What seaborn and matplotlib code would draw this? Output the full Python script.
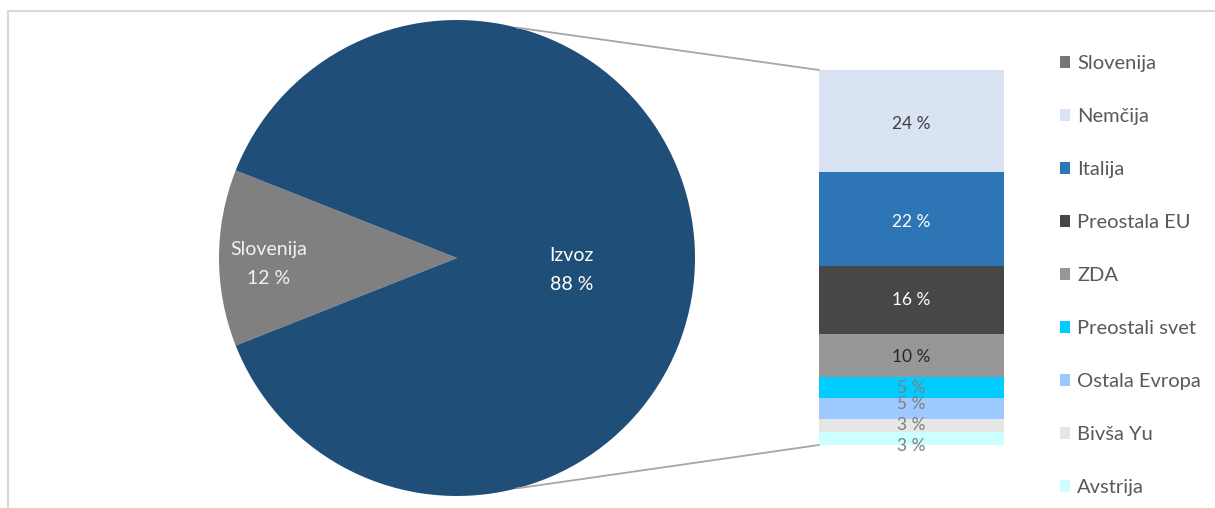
import numpy as np
import pandas as pd
import matplotlib
matplotlib.use("Agg")
import matplotlib.pyplot as plt
from matplotlib.patches import Patch, Rectangle, ConnectionPatch
import seaborn as sns

# ---- data ----
pie_labels = ["Slovenija", "Izvoz"]
pie_values = [12, 88]
pie_colors = ["#808080", "#1F4E79"]

bar_labels = ["Nemčija", "Italija", "Preostala EU", "ZDA", "Preostali svet",
              "Ostala Evropa", "Bivša Yu", "Avstrija"]
bar_values = [24, 22, 16, 10, 5, 5, 3, 3]
bar_colors = ["#DAE3F3", "#2E75B6", "#474747", "#979797", "#00CCFF",
              "#9DC9FF", "#E7E6E6", "#CCFFFF"]
bar_text_colors = ["#404040", "#FFFFFF", "#FFFFFF", "#262626", "#7F7F7F",
                   "#7F7F7F", "#7F7F7F", "#7F7F7F"]
# label shift in pixels (positive = down), mimicking overlap-avoidance
bar_label_offsets_px = [3, 3, 0, 1, 1, -5, -1, 7]

sns.set_theme(style="white")
plt.rcParams["font.family"] = ["Lato", "DejaVu Sans"]

W, H = 1215, 508
fig = plt.figure(figsize=(W / 100, H / 100), dpi=100)

# outer frame
fig.patches.append(Rectangle((8 / W, -0.1), 1.2, (H - 11) / H + 0.1,
                             transform=fig.transFigure, fill=False,
                             edgecolor="#D9D9D9", linewidth=1.5))

# ---- pie ----
cx, cy, r = 457, 258, 238
pax = fig.add_axes([(cx - r) / W, (H - cy - r) / H, 2 * r / W, 2 * r / H])
start = 180 - pie_values[0] / sum(pie_values) * 360 / 2
wedges, _ = pax.pie(pie_values, colors=pie_colors, startangle=start,
                    counterclock=True, radius=1,
                    wedgeprops=dict(linewidth=0, edgecolor="none"))
pax.set_xlim(-1, 1)
pax.set_ylim(-1, 1)
pax.axis("off")

label_dist = [0.79, 0.48]
label_dy = [-0.025, -0.05]
pie_text_colors = ["#F2F2F2", "#FFFFFF"]
for w, lab, val, d, dy, tc in zip(wedges, pie_labels, pie_values, label_dist,
                                  label_dy, pie_text_colors):
    ang = np.deg2rad((w.theta1 + w.theta2) / 2)
    pax.text(d * np.cos(ang), d * np.sin(ang) + dy, f"{lab}\n{val} %",
             ha="center", va="center", fontsize=14, color=tc, linespacing=1.85)

# ---- stacked bar (of pie) ----
bx0, bx1, by0, by1 = 819, 1004, 70, 445
bax = fig.add_axes([bx0 / W, (H - by1) / H, (bx1 - bx0) / W, (by1 - by0) / H])
total = sum(bar_values)
cum = np.cumsum(bar_values[::-1])[::-1]  # top-of-segment heights (bottom-up stacking)
df = pd.DataFrame({"grp": ["x"] * len(bar_labels), "top": cum,
                   "country": bar_labels})
for i in range(len(bar_labels)):
    sns.barplot(data=df.iloc[[i]], x="grp", y="top", color=bar_colors[i],
                width=1.0, saturation=1, ax=bax, linewidth=0)
bax.set_xlim(-0.5, 0.5)
bax.set_ylim(0, total)
bax.axis("off")

px_per_unit = (by1 - by0) / total
for i, (lab, v) in enumerate(zip(bar_labels, bar_values)):
    center = cum[i] - v / 2 - bar_label_offsets_px[i] / px_per_unit
    bax.text(0, center, f"{v} %", ha="center", va="center", fontsize=12.5,
             color=bar_text_colors[i])

# ---- connector lines ----
a = np.deg2rad(75.5)
for (px, py), (qx, qy) in [((np.cos(a), np.sin(a)), (-0.5, total)),
                           ((np.cos(a), -np.sin(a)), (-0.5, 0))]:
    con = ConnectionPatch(xyA=(px, py), coordsA=pax.transData,
                          xyB=(qx, qy), coordsB=bax.transData,
                          color="#A6A6A6", linewidth=1.3)
    fig.add_artist(con)

# ---- legend ----
leg_labels = [pie_labels[0]] + bar_labels
leg_colors = ["#767676"] + bar_colors
handles = [Patch(facecolor=c, edgecolor="none") for c in leg_colors]
leg = fig.legend(handles, leg_labels, loc="upper left",
                 bbox_to_anchor=(1060 / W, 1 - 55 / H), frameon=False,
                 fontsize=14.5, handlelength=0.5, handleheight=0.5,
                 handletextpad=0.35, labelspacing=1.79, borderaxespad=0,
                 borderpad=0)
for t in leg.get_texts():
    t.set_color("#595959")

fig.savefig("out.png", dpi=100)
